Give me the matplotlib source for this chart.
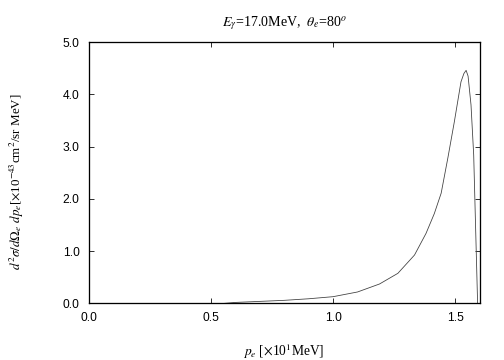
import matplotlib
matplotlib.use("Agg")
import matplotlib.pyplot as plt

# electron momentum [x10 MeV] and cross section [x10^-43 cm^2/sr MeV]
p_e = [0.55, 0.60, 0.70, 0.80, 0.90, 1.00, 1.10, 1.19, 1.265, 1.333, 1.38,
       1.414, 1.442, 1.47, 1.496, 1.523, 1.535, 1.544, 1.552, 1.564, 1.575, 1.591]
xsec = [0.0, 0.02, 0.04, 0.06, 0.09, 0.13, 0.22, 0.373, 0.577, 0.927, 1.34,
        1.72, 2.11, 2.80, 3.48, 4.24, 4.40, 4.46, 4.35, 3.80, 2.84, 0.0]

x_ticks = [0.0, 0.5, 1.0, 1.5]
y_ticks = [0.0, 1.0, 2.0, 3.0, 4.0, 5.0]

plt.rcParams['mathtext.fontset'] = 'stix'
serif = ['Liberation Serif', 'DejaVu Serif']
sans = ['Liberation Sans', 'DejaVu Sans']

fig = plt.figure(figsize=(7, 5), dpi=72)
ax = fig.add_axes([0.1756, 0.157, 0.7764, 0.726])

ax.plot(p_e, xsec, color='#404040', lw=0.8)

ax.set_xlim(0, 1.6)
ax.set_ylim(0, 5.0)
ax.set_xticks(x_ticks)
ax.set_xticklabels([f'{v:.1f}' for v in x_ticks], family=sans, fontsize=12)
ax.set_yticks(y_ticks)
ax.set_yticklabels([f'{v:.1f}' for v in y_ticks], family=sans, fontsize=12)
ax.tick_params(direction='in', length=5, width=0.8, top=True, right=True, pad=9)
for s in ax.spines.values():
    s.set_linewidth(1.3)

ax.set_title(r'$E_\gamma$=17.0MeV,  $\theta_e$=80$^o$', family=serif, fontsize=14, pad=16)
ax.set_xlabel(r'$p_e$ [$\times$10$^1$MeV]', family=serif, fontsize=13.5, labelpad=17)
ax.set_ylabel(r'$d^2\sigma/d\Omega_e\ dp_e$[$\times$10$^{-43}$cm$^2$/sr MeV]',
              family=serif, fontsize=13, labelpad=18)
ax.yaxis.set_label_coords(-0.16, 0.465)

fig.savefig('out.png', dpi=72)
